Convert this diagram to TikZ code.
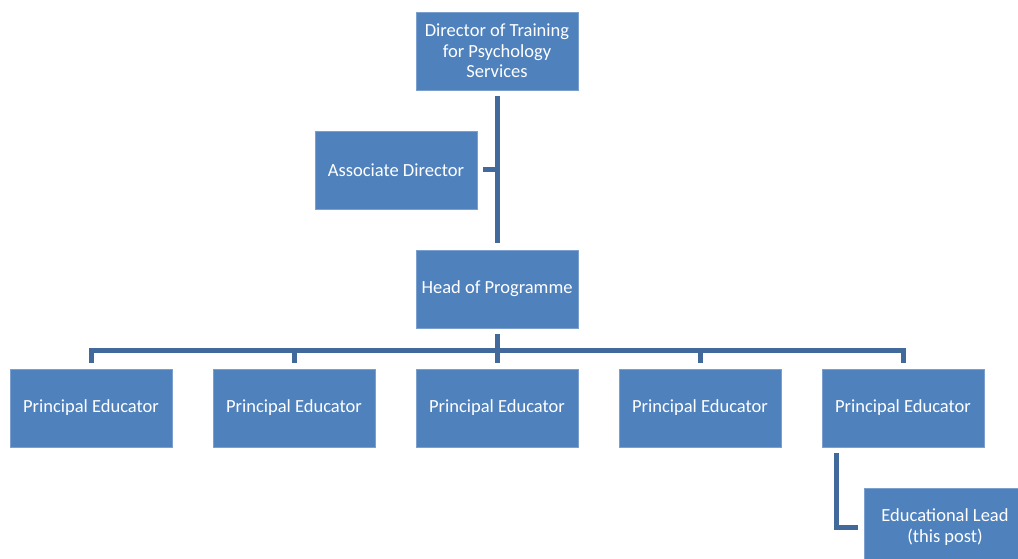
\documentclass[tikz,border=0pt]{standalone}
\usepackage{fontspec}
\setmainfont{Carlito}
\usetikzlibrary{positioning}
\definecolor{boxblue}{HTML}{4F81BD}
\definecolor{lineblue}{HTML}{41699C}

\begin{document}
\begin{tikzpicture}[x=1pt, y=-1pt,
		post/.style={rectangle, fill=boxblue, draw=boxblue!75!white, line width=0.8pt, text=white, minimum width=162pt, minimum height=78pt, align=center, inner sep=2pt, font=\fontsize{18.5}{20.5}\selectfont},
		link/.style={draw=lineblue, line width=5pt, line join=miter}]
	\useasboundingbox (0,0) rectangle (1018,559);
	\node[post] (director) at (497,51) {Director of Training\\for Psychology\\Services};
	\node[post] (assoc) at (396,170) {Associate Director};
	\node[post] (head) at (497,289) {Head of Programme};
	\foreach \i/\x in {1/91,2/294,3/497,4/700,5/903}
		\node[post] (pe\i) at (\x,408) {Principal Educator};
	\node[post] (edlead) at (945,527) {Educational Lead\\(this post)};
	\coordinate (bus) at (497,350);
	% top part
	\draw[link] ([yshift=-6pt]director.south) -- ([yshift=7pt]head.north);
	\draw[link] ([xshift=6pt]assoc.east) -- (director |- assoc);
	% educators
	\draw[link] ([yshift=-6pt]head.south) -- (bus);
	\draw[link] ([yshift=6pt]pe1.north) |- (bus) -| ([yshift=6pt]pe5.north);
	\foreach \i in {2,3,4}
		\draw[link] ([yshift=6pt]pe\i.north) -- (pe\i.north |- bus);
	\draw[link] ([xshift=15pt,yshift=-6pt]pe5.south west) |- ([xshift=-6pt]edlead.west);
\end{tikzpicture}
\end{document}
